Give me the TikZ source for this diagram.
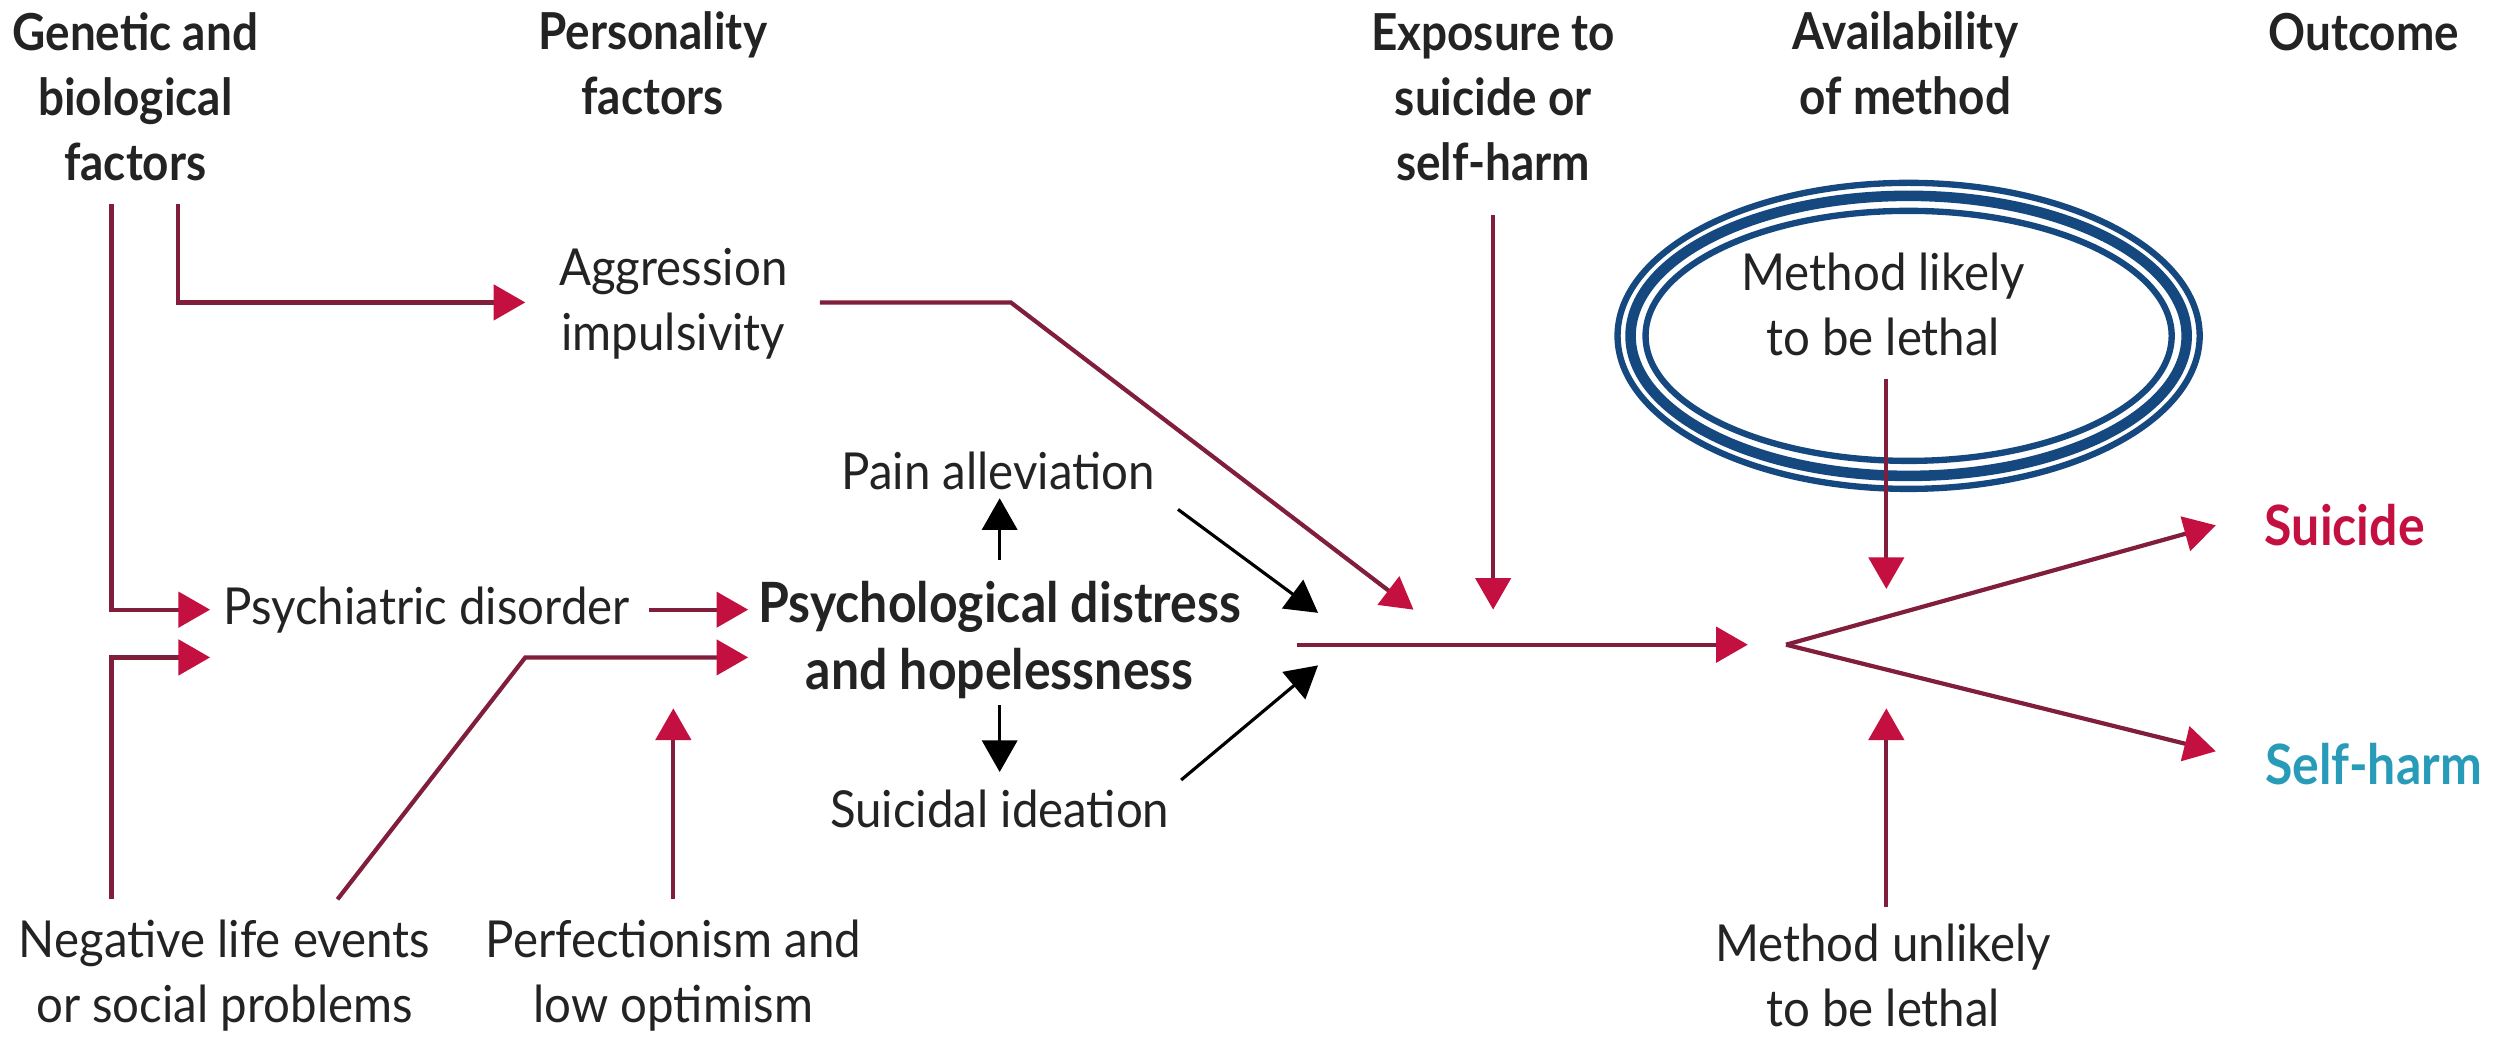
\documentclass[tikz,border=0pt]{standalone}
\usepackage{fontspec}
\setmainfont{Lato}[FakeStretch=0.93, BoldFeatures={FakeStretch=0.9}]
\usetikzlibrary{arrows.meta}
\definecolor{lnred}{RGB}{128,30,60}
\definecolor{tipred}{RGB}{196,16,64}
\definecolor{navyring}{RGB}{22,72,128}
\definecolor{shteal}{RGB}{40,155,185}
\definecolor{txt}{RGB}{35,35,35}
\tikzset{
  lbl/.style={font=\fontsize{14.5}{18.5}\selectfont, align=center, text=txt, inner sep=0pt},
  hdr/.style={lbl, font=\fontsize{14.5}{18.5}\selectfont\bfseries},
  bighdr/.style={lbl, font=\fontsize{15.8}{19}\selectfont\bfseries},
  redarr/.style={draw=lnred, line width=1.2pt, -{Triangle[length=9pt,width=10pt,color=tipred]}},
  blkarr/.style={draw=black, line width=0.9pt, -{Triangle[length=9pt,width=10pt,color=black]}},
  ring/.style={draw=navyring}
}
\begin{document}
\begin{tikzpicture}[x=0.01592cm, y=-0.01592cm]
\useasboundingbox (0,0) rectangle (1568,651);
% headers
\node[hdr] (gen) at (85,61) {Genetic and\\biological\\factors};
\node[hdr] (pers) at (410,40) {Personality\\factors};
\node[hdr] (expo) at (938,61) {Exposure to\\suicide or\\self-harm};
\node[hdr] (avail) at (1197,40) {Availability\\of method};
\node[hdr] (outc) at (1485,20) {Outcome};
% labels
\node[lbl] (aggr) at (423,191) {Aggression\\impulsivity};
\node[lbl] (psych) at (268,383) {Psychiatric disorder};
\node[bighdr] (pdh) at (628,402) {Psychological distress\\and hopelessness};
\node[lbl] (pain) at (627,296) {Pain alleviation};
\node[lbl] (ideat) at (628,508) {Suicidal ideation};
\node[lbl] (neg) at (141,613) {Negative life events\\or social problems};
\node[lbl] (perf) at (423,613) {Perfectionism and\\low optimism};
\node[lbl] (likely) at (1183,191) {Method likely\\to be lethal};
\node[lbl] (unlikely) at (1183,613) {Method unlikely\\to be lethal};
\node[bighdr, text=tipred] (suic) at (1473,330) {Suicide};
\node[bighdr, text=shteal] (selfh) at (1491,480) {Self-harm};
% ellipse rings
\coordinate (ell) at (1199,211);
\draw[ring, line width=1.8pt] (ell) ellipse [x radius=2.91cm, y radius=1.53cm];
\draw[ring, line width=3pt] (ell) ellipse [x radius=2.78cm, y radius=1.40cm];
\draw[ring, line width=1.8pt] (ell) ellipse [x radius=2.63cm, y radius=1.25cm];
% coordinates
\coordinate (g1) at (70,128);
\coordinate (g2) at (112,128);
\coordinate (ps1) at (132,383);
\coordinate (ps2) at (132,413);
\coordinate (ag1) at (330,190);
\coordinate (n1) at (70,565);
\coordinate (ao) at (515,190);
\coordinate (ab) at (635,190);
\coordinate (at) at (888,383);
\coordinate (po) at (408,383);
\coordinate (pt1) at (470,383);
\coordinate (pt2) at (470,413);
\coordinate (ns) at (212,565);
\coordinate (nb) at (330,413);
\coordinate (pfs) at (423,565);
\coordinate (pft) at (423,445);
\coordinate (es) at (938,135);
\coordinate (et) at (938,383);
\coordinate (pu1) at (628,352);
\coordinate (pu2) at (628,313);
\coordinate (pd1) at (628,443);
\coordinate (pd2) at (628,485);
\coordinate (pa1) at (740,320);
\coordinate (pa2) at (828,385);
\coordinate (si1) at (742,490);
\coordinate (si2) at (828,418);
\coordinate (ms) at (815,405);
\coordinate (mt) at (1098,405);
\coordinate (vx) at (1122,405);
\coordinate (st) at (1392,330);
\coordinate (ht) at (1392,472);
\coordinate (ls) at (1185,238);
\coordinate (lt) at (1185,370);
\coordinate (us) at (1185,570);
\coordinate (ut) at (1185,445);
% red connectors
\draw[redarr] (g1) |- (ps1);
\draw[redarr] (g2) |- (ag1);
\draw[redarr] (n1) |- (ps2);
\draw[redarr] (ao) -- (ab) -- (at);
\draw[redarr] (po) -- (pt1);
\draw[redarr] (ns) -- (nb) -- (pt2);
\draw[redarr] (pfs) -- (pft);
\draw[redarr] (es) -- (et);
\draw[redarr] (ms) -- (mt);
\draw[redarr] (vx) -- (st);
\draw[redarr] (vx) -- (ht);
\draw[redarr] (ls) -- (lt);
\draw[redarr] (us) -- (ut);
% black connectors
\draw[blkarr] (pu1) -- (pu2);
\draw[blkarr] (pd1) -- (pd2);
\draw[blkarr] (pa1) -- (pa2);
\draw[blkarr] (si1) -- (si2);
\end{tikzpicture}
\end{document}
